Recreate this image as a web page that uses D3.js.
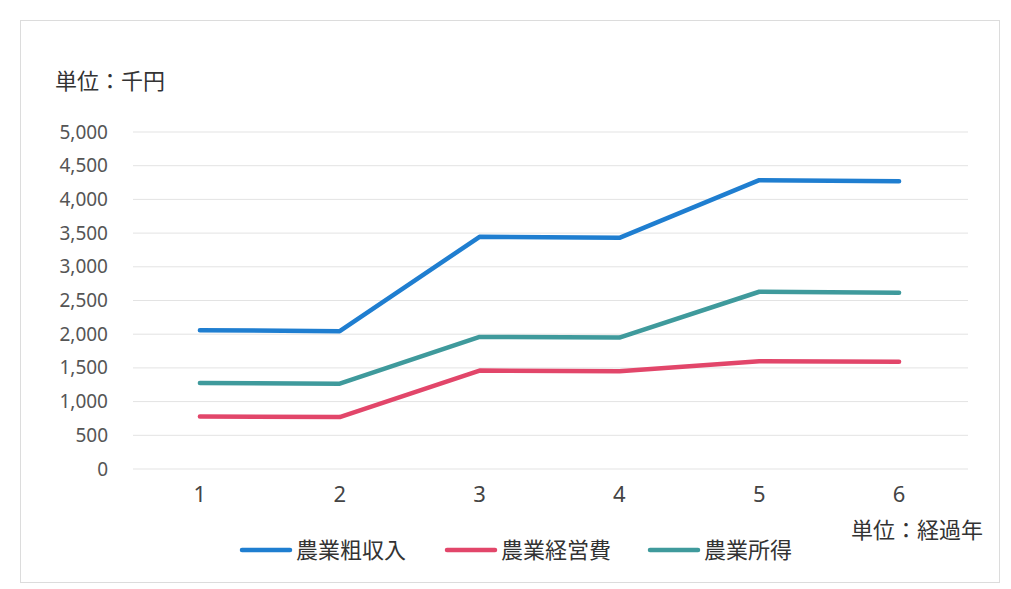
<!DOCTYPE html>
<html>
<head>
<meta charset="utf-8">
<script src="https://cdn.jsdelivr.net/npm/d3@7"></script>
<style>
  body { margin: 0; background: #fff; }
  text { font-family: "Noto Sans", "Noto Sans CJK JP", sans-serif; }
  .jp { font-family: "Noto Sans CJK JP", sans-serif; }
</style>
</head>
<body>
<div id="chart"></div>
<script>
// data (千円)
var years = [1, 2, 3, 4, 5, 6];
var grossIncome = [2060, 2045, 3445, 3430, 4285, 4270];   // 農業粗収入
var operatingCost = [780, 770, 1460, 1450, 1600, 1590];   // 農業経営費
var farmIncome = [1275, 1265, 1960, 1950, 2630, 2615];    // 農業所得
var seriesNames = ["農業粗収入", "農業経営費", "農業所得"];
var yTicks = [0, 500, 1000, 1500, 2000, 2500, 3000, 3500, 4000, 4500, 5000];

var svgWidth = 1011;
var svgHeight = 589;
var colors = ["#1f7ed0", "#e2466a", "#3f9a9c"];

var series = [grossIncome, operatingCost, farmIncome].map(function(vals, i){
	return { name: seriesNames[i], color: colors[i], values: vals };
});

var svg = d3.select("#chart")
	.append("svg")
	.attr("width", svgWidth)
	.attr("height", svgHeight);

// chart frame
svg.append("rect")
	.attr("x", 20.5).attr("y", 20.5)
	.attr("width", 979).attr("height", 562)
	.attr("fill", "#fff")
	.attr("stroke", "#dcdcdc");

var x = d3.scaleBand()
	.domain(years)
	.range([130, 969]);

var y = d3.scaleLinear()
	.domain([0, 5000])
	.range([469, 132]);

// grid
svg.append("g")
	.selectAll("line")
	.data(yTicks)
	.enter()
	.append("line")
	.attr("x1", 133)
	.attr("x2", 968)
	.attr("y1", d => y(d))
	.attr("y2", d => y(d))
	.attr("stroke", "#e3e3e3")
	.attr("stroke-width", 1);

// y axis labels
var yAxis = svg.append("g")
	.attr("transform", "translate(108,0)")
	.call(d3.axisLeft(y).tickValues(yTicks).tickSize(0).tickPadding(0).tickFormat(d3.format(",")));
yAxis.select(".domain").remove();
yAxis.selectAll("text")
	.attr("font-size", 19)
	.attr("fill", "#555")
	.style("font-family", "'Noto Sans', sans-serif");

// x axis labels
var xAxis = svg.append("g")
	.attr("transform", "translate(0,486)")
	.call(d3.axisBottom(x).tickSize(0).tickPadding(0));
xAxis.select(".domain").remove();
xAxis.selectAll("text")
	.attr("font-size", 22)
	.attr("fill", "#444")
	.style("font-family", "'Noto Sans', sans-serif");

// lines
var line = d3.line()
	.x(function(d, i){ return x(years[i]) + x.bandwidth() / 2; })
	.y(function(d){ return y(d); });

svg.selectAll(".series")
	.data(series)
	.enter()
	.append("path")
	.attr("class", "series")
	.attr("d", d => line(d.values))
	.attr("fill", "none")
	.attr("stroke", d => d.color)
	.attr("stroke-width", 4.5)
	.attr("stroke-linecap", "round")
	.attr("stroke-linejoin", "round");

// unit labels
svg.append("text")
	.attr("class", "jp")
	.attr("x", 55).attr("y", 89)
	.attr("font-size", 22)
	.attr("fill", "#333")
	.text("単位：千円");

svg.append("text")
	.attr("class", "jp")
	.attr("x", 983).attr("y", 538)
	.attr("text-anchor", "end")
	.attr("font-size", 22)
	.attr("fill", "#333")
	.text("単位：経過年");

// legend
var legendX = [242, 447, 650];
var legend = svg.selectAll(".legend")
	.data(series)
	.enter()
	.append("g")
	.attr("class", "legend")
	.attr("transform", function(d, i){
		return "translate(" + legendX[i] + ",550)";
	});

legend.append("line")
	.attr("x1", 0).attr("x2", 48)
	.attr("stroke", d => d.color)
	.attr("stroke-width", 4.5)
	.attr("stroke-linecap", "round");

legend.append("text")
	.attr("class", "jp")
	.attr("x", 54)
	.attr("y", 8)
	.attr("font-size", 22)
	.attr("fill", "#333")
	.text(d => d.name);
</script>
</body>
</html>
